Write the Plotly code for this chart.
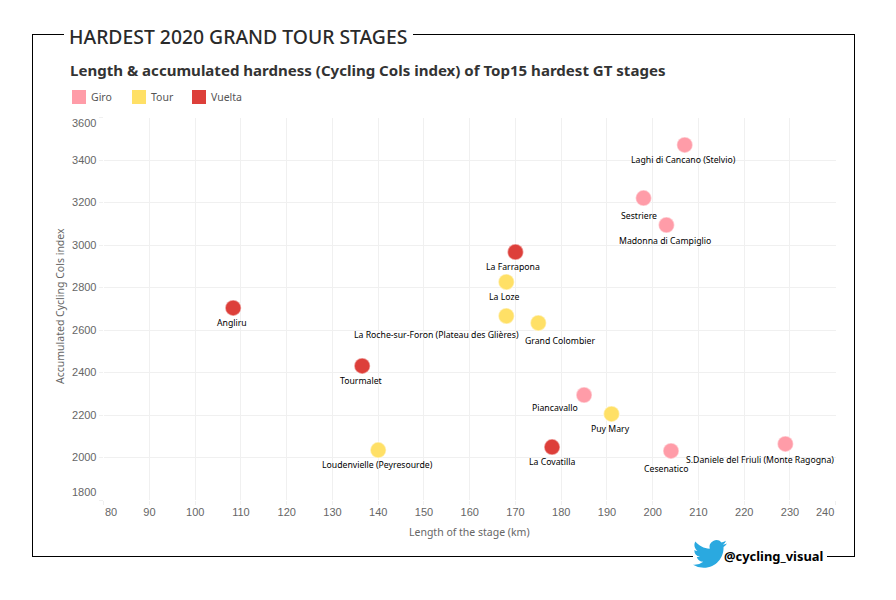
import base64
import plotly.graph_objects as go

W, H = 896, 600

# --- data ---
giro_names = ["Laghi di Cancano (Stelvio)", "Sestriere", "Madonna di Campiglio", "Piancavallo", "Cesenatico", "S.Daniele del Friuli (Monte Ragogna)"]
giro_length = [207, 198, 203, 185, 204, 229]
giro_index = [3471, 3221, 3094, 2294, 2031, 2064]

tour_names = ["La Loze", "La Roche-sur-Foron (Plateau des Glières)", "Grand Colombier", "Puy Mary", "Loudenvielle (Peyresourde)"]
tour_length = [168, 168, 175, 191, 140]
tour_index = [2826, 2666, 2633, 2205, 2035]

vuelta_names = ["La Farrapona", "Angliru", "Tourmalet", "La Covatilla"]
vuelta_length = [170, 108.3, 136.5, 178]
vuelta_index = [2967, 2704, 2431, 2049]

x_ticks = list(range(80, 241, 10))
y_ticks = list(range(1800, 3601, 200))

# --- label placement (pixels from the point) ---
label_offsets = {
    "Laghi di Cancano (Stelvio)": (-1, 15), "Sestriere": (-5, 18), "Madonna di Campiglio": (-1, 16),
    "Piancavallo": (-29, 13), "Cesenatico": (-5, 18), "S.Daniele del Friuli (Monte Ragogna)": (-25, 16),
    "La Loze": (-2, 15), "La Roche-sur-Foron (Plateau des Glières)": (-70, 19), "Grand Colombier": (22, 18),
    "Puy Mary": (-1, 15), "Loudenvielle (Peyresourde)": (-1, 15),
    "La Farrapona": (-2, 15), "Angliru": (-1, 15), "Tourmalet": (-1, 15), "La Covatilla": (0, 15),
}

GIRO, TOUR, VUELTA = "#ff9ca8", "#ffe066", "#dd3f3a"
FONT = "Trebuchet MS, Noto Sans, sans-serif"
TICK = "Liberation Sans, Arial, sans-serif"


def px(v):
    return v / W


def py(v):
    return 1 - v / H


fig = go.Figure()
for name, xs, ys, color in [
    ("Giro", giro_length, giro_index, GIRO),
    ("Tour", tour_length, tour_index, TOUR),
    ("Vuelta", vuelta_length, vuelta_index, VUELTA),
]:
    fig.add_trace(go.Scatter(
        x=xs, y=ys, mode="markers", name=name,
        marker=dict(size=16, color=color, symbol="circle", line=dict(width=1.5, color="rgba(255,255,255,0.45)")),
        cliponaxis=False,
    ))

annotations = []
for names, xs, ys in [
    (giro_names, giro_length, giro_index),
    (tour_names, tour_length, tour_index),
    (vuelta_names, vuelta_length, vuelta_index),
]:
    for n, x, y in zip(names, xs, ys):
        dx, dy = label_offsets[n]
        annotations.append(dict(
            x=x, y=y, xref="x", yref="y", text=n, showarrow=False, xanchor="center", yanchor="middle",
            xshift=dx, yshift=-dy, font=dict(family=FONT, size=8.7, color="#000000"),
        ))


def page_text(text, x, y, size, color, family=FONT, anchor="left", angle=0, bold=False, weight=None):
    font = dict(family=family, size=size, color=color)
    if weight:
        font["weight"] = weight
    annotations.append(dict(
        x=px(x), y=py(y), xref="paper", yref="paper", text=f"<b>{text}</b>" if bold else text,
        showarrow=False, xanchor=anchor, yanchor="middle", textangle=angle, font=font,
    ))


page_text("HARDEST 2020 GRAND TOUR STAGES", 67, 36, 19.35, "#2a2a2a", weight=500)
page_text("Length &amp; accumulated hardness (Cycling Cols index) of Top15 hardest GT stages", 68, 70, 15.05, "#333333", bold=True)
page_text("@cycling_visual", 722, 556, 12.9, "#000000", bold=True)
page_text("Length of the stage (km)", 469, 532, 10.5, "#666666", anchor="center")
page_text("Accumulated Cycling Cols index", 60, 306, 10.5, "#666666", anchor="center", angle=-90)
# first and last tick labels sit inside the axis ends
page_text("3600", 98, 123, 11, "#666666", family=TICK, anchor="right")
page_text("1800", 98, 492, 11, "#666666", family=TICK, anchor="right")
page_text("80", 111, 512, 11, "#666666", family=TICK, anchor="center")
page_text("240", 825, 512, 11, "#666666", family=TICK, anchor="center")

# legend swatches and labels
shapes = []
for label, color, left in [("Giro", GIRO, 72), ("Tour", TOUR, 132), ("Vuelta", VUELTA, 192)]:
    shapes.append(dict(type="rect", xref="paper", yref="paper", x0=px(left), x1=px(left + 14), y0=py(90), y1=py(104),
                       fillcolor=color, line=dict(width=0)))
    page_text(label, left + 17, 97, 10.5, "#555555")

# frame with gaps for the title and the handle
for x0, y0, x1, y1 in [
    (33, 34.5, 64, 34.5), (413, 34.5, 855, 34.5), (854.5, 34, 854.5, 557),
    (855, 556.5, 827, 556.5), (693, 556.5, 32.5, 556.5), (32.5, 557, 32.5, 34),
]:
    shapes.append(dict(type="line", xref="paper", yref="paper", x0=px(x0), x1=px(x1), y0=py(y0), y1=py(y1),
                       line=dict(color="#000000", width=1)))

bird = ('<svg xmlns="http://www.w3.org/2000/svg" viewBox="0 0 24 24"><path fill="#2aa9e0" d="M23.953 4.57a10 10 0 01-2.825.775 '
        '4.958 4.958 0 002.163-2.723c-.951.555-2.005.959-3.127 1.184a4.92 4.92 0 00-8.384 4.482C7.69 8.095 4.067 6.13 1.64 3.162a4.822 '
        '4.822 0 00-.666 2.475c0 1.71.87 3.213 2.188 4.096a4.904 4.904 0 01-2.228-.616v.06a4.923 4.923 0 003.946 4.827 4.996 4.996 0 '
        '01-2.212.085 4.936 4.936 0 004.604 3.417 9.867 9.867 0 01-6.102 2.105c-.39 0-.779-.023-1.17-.067a13.995 13.995 0 007.557 '
        '2.209c9.053 0 13.998-7.496 13.998-13.985 0-.21 0-.42-.015-.63A9.935 9.935 0 0024 4.59z"/></svg>')
bird_uri = "data:image/svg+xml;base64," + base64.b64encode(bird.encode()).decode()

axis_style = dict(
    showgrid=True, gridcolor="#f0f0f0", gridwidth=1, zeroline=False, showline=False,
    ticks="outside", ticklen=4, tickcolor="#f0f0f0", tickwidth=1,
    tickfont=dict(family=TICK, size=11, color="#666666"),
)

fig.update_layout(
    width=W, height=H, margin=dict(l=0, r=0, t=0, b=0), autosize=False,
    paper_bgcolor="white", plot_bgcolor="white", showlegend=False,
    xaxis=dict(domain=[px(103.7), px(835.7)], range=[80, 240], tickmode="array", tickvals=x_ticks,
               ticktext=["" if v in (80, 240) else str(v) for v in x_ticks], ticklabelstandoff=-2, **axis_style),
    yaxis=dict(domain=[py(500), py(117.5)], range=[1800, 3600], tickmode="array", tickvals=y_ticks,
               ticktext=["" if v in (1800, 3600) else str(v) for v in y_ticks], **axis_style),
    annotations=annotations, shapes=shapes,
    images=[dict(source=bird_uri, xref="paper", yref="paper", x=px(693), y=py(537), sizex=34 / W, sizey=34 / H,
                 xanchor="left", yanchor="top", sizing="contain", layer="above")],
)

fig.write_html("out.html", config={"displayModeBar": False}, post_script="document.body.style.margin='0';")
